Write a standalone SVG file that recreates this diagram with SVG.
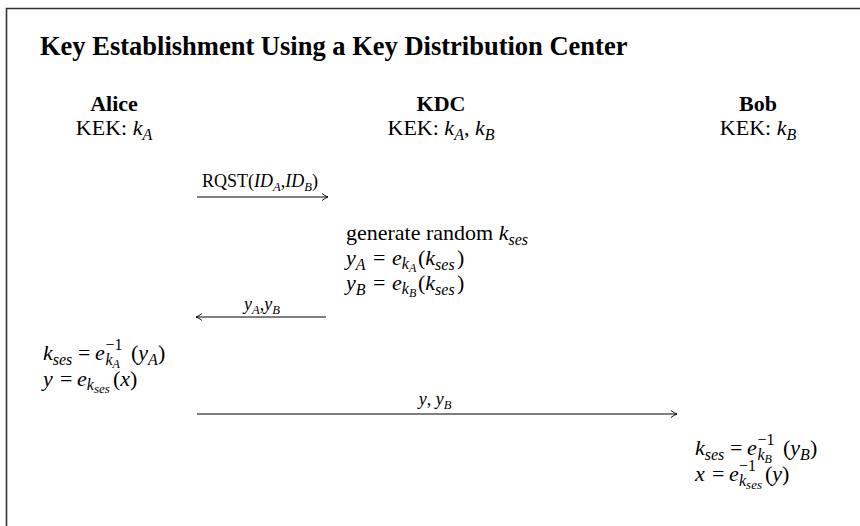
<svg xmlns="http://www.w3.org/2000/svg" width="860" height="526" viewBox="0 0 860 526" font-family="'Liberation Serif', 'Times New Roman', serif">
<defs>
<marker id="arr" markerUnits="userSpaceOnUse" markerWidth="10" markerHeight="10" refX="6" refY="4" orient="auto">
<path d="M0,0.5 Q3,3 6,4 Q3,5 0,7.5" fill="none" stroke="#000" stroke-width="0.9"/>
</marker>
</defs>
<style>
text { font-family: 'Liberation Serif', 'Times New Roman', serif; fill: #000; }
.title { font-size: 26.5px; font-weight: bold; }
.hdr { font-size: 22px; font-weight: bold; text-anchor: middle; }
.b { font-size: 22px; }
.mid { text-anchor: middle; }
.i { font-style: italic; }
.s { font-size: 16px; }
.ss { font-size: 12px; }
.sss { font-size: 13px; }
.lbl { font-size: 18px; }
.lbs { font-size: 12.6px; }
.conn line { stroke: #000; stroke-width: 1; fill: none; }
.frame { stroke: #333; stroke-width: 1.6; fill: none; }
</style>
<rect width="860" height="526" fill="#fff"/>
<path class="frame" d="M6.5,526 L6.5,8.5 L860,8.5"/>
<text class="title" x="40" y="55">Key Establishment Using a Key Distribution Center</text>

<g id="alice">
<text class="hdr" x="114" y="111">Alice</text>
<text class="b mid" x="114" y="135">KEK: <tspan class="i">k</tspan><tspan class="i s" dy="5">A</tspan></text>
</g>
<g id="kdc">
<text class="hdr" x="441" y="111">KDC</text>
<text class="b mid" x="441" y="135">KEK: <tspan class="i">k</tspan><tspan class="i s" dy="5">A</tspan><tspan dy="-5">, </tspan><tspan class="i">k</tspan><tspan class="i s" dy="5">B</tspan></text>
</g>
<g id="bob">
<text class="hdr" x="758" y="111">Bob</text>
<text class="b mid" x="758" y="135">KEK: <tspan class="i">k</tspan><tspan class="i s" dy="5">B</tspan></text>
</g>

<g id="kdc-compute">
<text class="b" x="346" y="240">generate random <tspan class="i">k</tspan><tspan class="i s" y="245">ses</tspan></text>
<text class="b" y="265"><tspan class="i" x="346">y</tspan><tspan class="i s" y="270">A</tspan><tspan x="373" y="265">=</tspan><tspan class="i" x="392">e</tspan><tspan class="i s" y="269">k</tspan><tspan class="i ss" y="272">A</tspan><tspan x="418" y="265">(</tspan><tspan class="i">k</tspan><tspan class="i s" y="270">ses</tspan><tspan x="457" y="265">)</tspan></text>
<text class="b" y="290"><tspan class="i" x="346">y</tspan><tspan class="i s" y="295">B</tspan><tspan x="373" y="290">=</tspan><tspan class="i" x="392">e</tspan><tspan class="i s" y="294">k</tspan><tspan class="i ss" y="297">B</tspan><tspan x="418" y="290">(</tspan><tspan class="i">k</tspan><tspan class="i s" y="295">ses</tspan><tspan x="457" y="290">)</tspan></text>
</g>

<g id="alice-compute">
<text class="b" y="360"><tspan class="i" x="43">k</tspan><tspan class="i s" y="365">ses</tspan><tspan x="78" y="360">=</tspan><tspan class="i" x="95">e</tspan><tspan class="s" x="105.5" y="350">−1</tspan><tspan class="s i" x="105.5" y="365">k</tspan><tspan class="ss i" y="368">A</tspan><tspan x="131" y="360">(</tspan><tspan class="i">y</tspan><tspan class="i s" y="365">A</tspan><tspan y="360">)</tspan></text>
<text class="b" y="386"><tspan class="i" x="43">y</tspan><tspan x="60">=</tspan><tspan class="i" x="77">e</tspan><tspan class="i s" y="390">k</tspan><tspan class="i sss" y="393">ses</tspan><tspan x="113" y="386">(</tspan><tspan class="i">x</tspan><tspan>)</tspan></text>
</g>

<g id="bob-compute">
<text class="b" y="455"><tspan class="i" x="695">k</tspan><tspan class="i s" y="460">ses</tspan><tspan x="730" y="455">=</tspan><tspan class="i" x="747">e</tspan><tspan class="s" x="757.5" y="445">−1</tspan><tspan class="s i" x="757.5" y="460">k</tspan><tspan class="ss i" y="463">B</tspan><tspan x="783" y="455">(</tspan><tspan class="i">y</tspan><tspan class="i s" y="460">B</tspan><tspan y="455">)</tspan></text>
<text class="b" y="481"><tspan class="i" x="695">x</tspan><tspan x="712">=</tspan><tspan class="i" x="729">e</tspan><tspan class="s" x="739" y="471">−1</tspan><tspan class="s i" x="739" y="486">k</tspan><tspan class="sss i" y="489">ses</tspan><tspan x="765" y="481">(</tspan><tspan class="i">y</tspan><tspan>)</tspan></text>
</g>

<g class="conn" id="connectors">
<line x1="197" y1="197" x2="328" y2="197" marker-end="url(#arr)"/>
<line x1="326" y1="317" x2="196" y2="317" marker-end="url(#arr)"/>
<line x1="197" y1="414" x2="677" y2="414" marker-end="url(#arr)"/>
<text class="lbl mid" x="260" y="187">RQST(<tspan class="i">ID</tspan><tspan class="i lbs" dy="4">A</tspan><tspan dy="-4">,</tspan><tspan class="i">ID</tspan><tspan class="i lbs" dy="4">B</tspan><tspan dy="-4">)</tspan></text>
<text class="lbl mid" x="262" y="310"><tspan class="i">y</tspan><tspan class="i lbs" dy="4">A</tspan><tspan dy="-4">,</tspan><tspan class="i">y</tspan><tspan class="i lbs" dy="4">B</tspan></text>
<text class="lbl mid" x="435" y="405"><tspan class="i">y</tspan>, <tspan class="i">y</tspan><tspan class="i lbs" dy="4">B</tspan></text>
</g>
</svg>
